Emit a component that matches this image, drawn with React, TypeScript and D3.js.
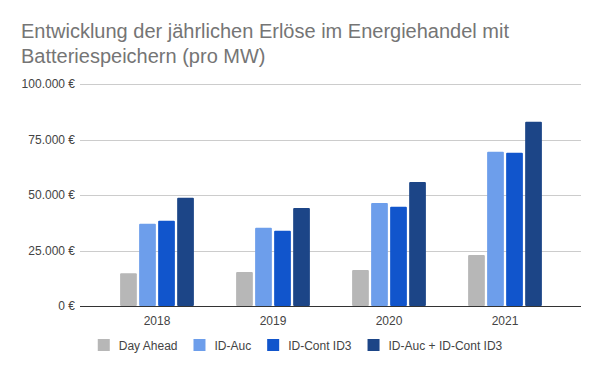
import * as React from "react";
import * as d3 from "d3";
import { useEffect, useRef } from "react";

const years = ["2018", "2019", "2020", "2021"];
const seriesNames = ["Day Ahead", "ID-Auc", "ID-Cont ID3", "ID-Auc + ID-Cont ID3"];
const seriesColors = ["#b7b7b7", "#6d9eeb", "#1155cc", "#1c4587"];
const dayAhead = [14800, 15300, 16200, 23000];
const idAuc = [37000, 35200, 46400, 69500];
const idCont = [38400, 33900, 44700, 69000];
const idAucCont = [48800, 44200, 55900, 83000];
const yTicks = [0, 25000, 50000, 75000, 100000];
const titleLines = [
  "Entwicklung der jährlichen Erlöse im Energiehandel mit",
  "Batteriespeichern (pro MW)",
];

const allSeries = [dayAhead, idAuc, idCont, idAucCont];

function generateChart(svgRef: React.RefObject<SVGSVGElement>) {
  const svg = d3.select(svgRef.current);
  const width = 600;
  const height = 371;
  const font = '"Liberation Sans", Arial, sans-serif';
  svg.selectAll("*").remove();
  svg.attr("width", width).attr("height", height);

  svg.append("rect").attr("width", width).attr("height", height).attr("fill", "#fff");

  // title
  svg
    .append("g")
    .selectAll("text")
    .data(titleLines)
    .enter()
    .append("text")
    .attr("x", 21)
    .attr("y", (d, i) => 38 + i * 25)
    .attr("font-family", font)
    .attr("font-size", 20)
    .attr("fill", "#757575")
    .text((d) => d);

  const plotLeft = 80;
  const plotRight = 581;

  const yScale = d3.scaleLinear().domain([0, 100000]).range([306, 84]);

  const xScale = d3.scaleBand().domain(years).range([99, 563]);
  const inner = d3
    .scaleBand()
    .domain(seriesNames)
    .range([0, xScale.bandwidth()])
    .paddingInner(0.12)
    .paddingOuter(1.11);

  const fmt = (v: number) =>
    (v === 0 ? "0" : d3.format(",")(v).replace(/,/g, ".")) + " €";

  // gridlines
  svg
    .append("g")
    .selectAll("line")
    .data(yTicks.filter((t) => t > 0))
    .enter()
    .append("line")
    .attr("x1", plotLeft)
    .attr("x2", plotRight)
    .attr("y1", (d) => Math.round(yScale(d)) + 0.5)
    .attr("y2", (d) => Math.round(yScale(d)) + 0.5)
    .attr("stroke", "#cccccc")
    .attr("stroke-width", 1);

  // y labels
  svg
    .append("g")
    .selectAll("text")
    .data(yTicks)
    .enter()
    .append("text")
    .attr("x", 75)
    .attr("y", (d) => yScale(d) + 4)
    .attr("text-anchor", "end")
    .attr("font-family", font)
    .attr("font-size", 12)
    .attr("fill", "#444")
    .text((d) => fmt(d));

  // bars
  allSeries.forEach((values, si) => {
    svg
      .append("g")
      .selectAll("rect")
      .data(values)
      .enter()
      .append("rect")
      .attr("x", (d, i) => xScale(years[i])! + inner(seriesNames[si])!)
      .attr("y", (d) => yScale(d))
      .attr("width", inner.bandwidth())
      .attr("height", (d) => yScale(0) - yScale(d))
      .attr("rx", 1)
      .attr("fill", seriesColors[si]);
  });

  // baseline
  svg
    .append("line")
    .attr("x1", plotLeft)
    .attr("x2", plotRight)
    .attr("y1", yScale(0) + 0.5)
    .attr("y2", yScale(0) + 0.5)
    .attr("stroke", "#333")
    .attr("stroke-width", 1);

  // x labels
  svg
    .append("g")
    .selectAll("text")
    .data(years)
    .enter()
    .append("text")
    .attr("x", (d) => xScale(d)! + xScale.bandwidth() / 2)
    .attr("y", 325)
    .attr("text-anchor", "middle")
    .attr("font-family", font)
    .attr("font-size", 12)
    .attr("fill", "#444")
    .text((d) => d);

  // legend, centered
  const legend = svg.append("g");
  const items = legend
    .selectAll("g")
    .data(seriesNames)
    .enter()
    .append("g");
  items
    .append("rect")
    .attr("width", 12)
    .attr("height", 12)
    .attr("y", 339)
    .attr("fill", (d, i) => seriesColors[i]);
  const labels = items
    .append("text")
    .attr("x", 21)
    .attr("y", 349.5)
    .attr("font-family", font)
    .attr("font-size", 12)
    .attr("fill", "#444")
    .text((d) => d);
  const widths: number[] = [];
  labels.each(function () {
    widths.push((this as SVGTextElement).getComputedTextLength());
  });
  const gap = 16;
  const itemW = widths.map((w) => 21 + w);
  const total = d3.sum(itemW) + gap * (itemW.length - 1);
  let x = width / 2 - total / 2;
  items.attr("transform", (d, i) => {
    const t = `translate(${x},0)`;
    x += itemW[i] + gap;
    return t;
  });
}

export default function App() {
  const svg = useRef<SVGSVGElement>(null);
  useEffect(() => {
    generateChart(svg);
  }, []);
  return (
    <div style={{ margin: -8 }}>
      <svg ref={svg} style={{ display: "block" }} />
    </div>
  );
}
